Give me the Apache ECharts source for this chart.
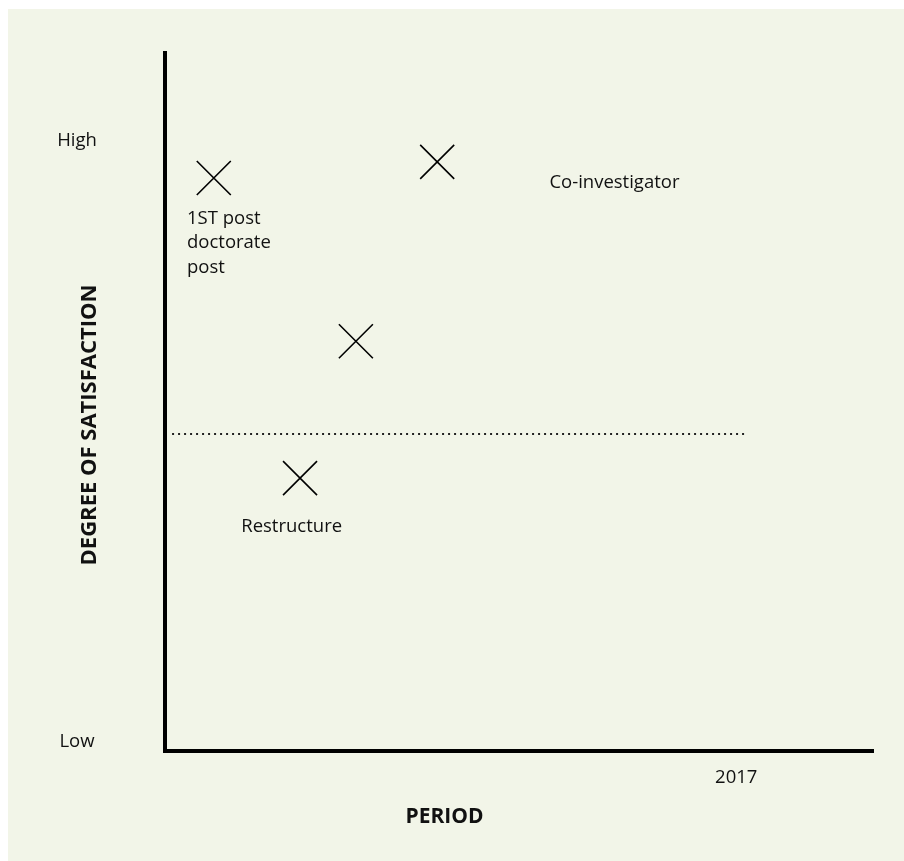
<!DOCTYPE html>
<html>
<head>
<meta charset="utf-8">
<script src="https://cdn.jsdelivr.net/npm/echarts@6/dist/echarts.min.js"></script>
<style>
  html, body { margin: 0; padding: 0; background: #ffffff; }
  #chart { position: absolute; left: 8px; top: 9px; width: 896px; height: 852px; background: #f2f5e8; }
</style>
</head>
<body>
<div id="chart"></div>
<script>
// career points (x = period, y = satisfaction, both 0..100)
const pointX = [6.9, 38.5, 27.0, 19.1];
const pointY = [82.1, 84.4, 58.7, 39.1];
const pointNames = ['1ST post\ndoctorate\npost', 'Co-investigator', '', 'Restructure'];

// axis ticks
const yTickValues = [1.3, 87.4];
const yTickLabels = ['Low', 'High'];
const xTickValues = [80.8];
const xTickLabels = ['2017'];

// dotted reference line
const refLineX = [1.0, 82.0];
const refLineY = 45.4;

(function () {
  const myChart = echarts.init(document.getElementById('chart'));
  const font = '"Open Sans", "Noto Sans", sans-serif';
  const ink = '#111111';

  // label offsets relative to the top-left corner of each cross
  const labelPos = [[-9, 46], [130, 26], [0, 0], [-41, 54]];

  const points = pointX.map((x, i) => ({
    value: [x, pointY[i]],
    label: {
      show: pointNames[i] !== '',
      formatter: pointNames[i],
      position: labelPos[i],
    },
  }));

  const option = {
    animation: false,
    grid: {
      left: 157,
      top: 44,
      right: 32,
      bottom: 110,
    },
    xAxis: {
      type: 'value',
      min: 0,
      max: 100,
      name: 'PERIOD',
      nameLocation: 'middle',
      nameGap: 56,
      nameMoveOverlap: false,
      nameTextStyle: {
        color: ink,
        fontFamily: font,
        fontWeight: 'bold',
        fontSize: 21,
        padding: [0, 148, 0, 0],
      },
      axisLine: {
        lineStyle: { color: '#000', width: 4, cap: 'square' },
      },
      axisTick: { show: false },
      splitLine: { show: false },
      axisLabel: {
        customValues: xTickValues,
        formatter: (v) => xTickLabels[xTickValues.indexOf(v)],
        color: ink,
        fontFamily: font,
        fontSize: 18.5,
        margin: 17,
      },
    },
    yAxis: {
      type: 'value',
      min: 0,
      max: 100,
      name: 'DEGREE OF SATISFACTION',
      nameLocation: 'middle',
      nameGap: 64,
      nameMoveOverlap: false,
      nameTextStyle: {
        color: ink,
        fontFamily: font,
        fontWeight: 'bold',
        fontSize: 22,
        padding: [0, 46, 0, 0],
      },
      axisLine: {
        lineStyle: { color: '#000', width: 4, cap: 'square' },
      },
      axisTick: { show: false },
      splitLine: { show: false },
      axisLabel: {
        customValues: yTickValues,
        formatter: (v) => yTickLabels[yTickValues.indexOf(v)],
        color: ink,
        fontFamily: font,
        fontSize: 18.5,
        align: 'center',
        margin: 88,
      },
    },
    series: [
      {
        type: 'line',
        data: refLineX.map((x) => [x, refLineY]),
        symbol: 'none',
        silent: true,
        lineStyle: {
          color: '#222',
          width: 2,
          type: [2, 4],
        },
      },
      {
        type: 'scatter',
        data: points,
        symbol: 'path://M0,0L10,10M10,0L0,10',
        symbolSize: 34,
        itemStyle: {
          color: 'transparent',
          borderColor: '#000',
          borderWidth: 1.6,
          opacity: 1,
        },
        label: {
          color: ink,
          textBorderWidth: 0,
          fontFamily: font,
          fontSize: 18.5,
          lineHeight: 24.5,
          align: 'left',
          verticalAlign: 'top',
        },
      },
    ],
  };

  myChart.setOption(option);

  window.addEventListener('resize', () => {
    myChart.resize();
  });
})();
</script>
</body>
</html>
